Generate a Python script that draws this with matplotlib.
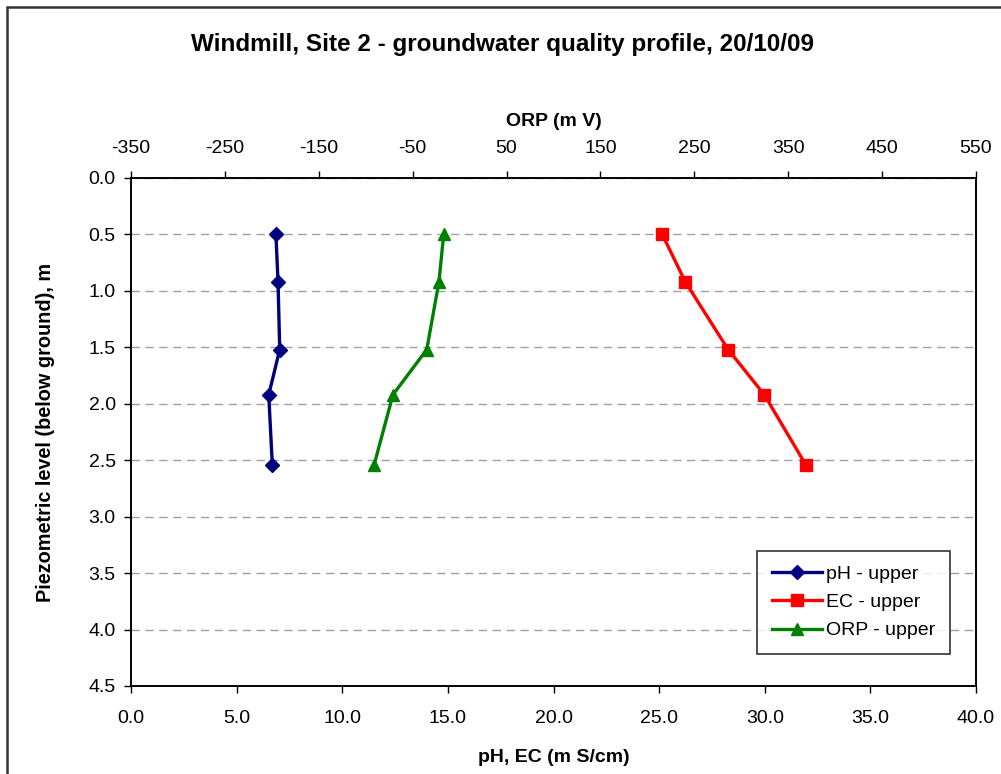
import matplotlib.pyplot as plt
from matplotlib.patches import Rectangle

plt.rcParams['font.family'] = ['Liberation Sans', 'DejaVu Sans']
plt.rcParams['axes.unicode_minus'] = False

depth = [0.50, 0.92, 1.52, 1.92, 2.54]
ph = [6.86, 6.96, 7.04, 6.52, 6.69]
ec = [25.15, 26.24, 28.27, 29.98, 31.94]
orp = [-17, -22, -35, -71, -91]

fig = plt.figure(figsize=(10.01, 7.74), dpi=100)
ax = fig.add_axes([131 / 1001, 1 - 686 / 774, 845 / 1001, 508 / 774])
ax2 = ax.twiny()

l1, = ax.plot(ph, depth, color='#000080', lw=2.4, marker='D', ms=7, label='pH - upper')
l2, = ax.plot(ec, depth, color='#ff0000', lw=2.4, marker='s', ms=8, label='EC - upper')
l3, = ax2.plot(orp, depth, color='#008000', lw=2.4, marker='^', ms=9, label='ORP - upper')

ax.set_xlim(0, 40)
ax.set_ylim(4.5, 0)
ax2.set_xlim(-350, 550)
ax.set_xticks([0, 5, 10, 15, 20, 25, 30, 35, 40])
ax.set_xticklabels(['%.1f' % v for v in ax.get_xticks()])
ax.set_yticks([i * 0.5 for i in range(10)])
ax.set_yticklabels(['%.1f' % (i * 0.5) for i in range(10)])
ax2.set_xticks(range(-350, 551, 100))

ax.yaxis.grid(True, linestyle=(0, (6, 4)), color='#a0a0a0', lw=1)
ax.set_axisbelow(True)

for a in (ax, ax2):
    a.tick_params(labelsize=14, length=5, width=1, color='black')
    for s in a.spines.values():
        s.set_linewidth(1.2)
ax.tick_params(axis='x', pad=12)
ax2.tick_params(axis='x', pad=10)
ax.tick_params(axis='y', pad=6)

ax.set_xlabel('pH, EC (m S/cm)', fontsize=14, fontweight='bold', labelpad=16)
ax.set_ylabel('Piezometric level (below ground), m', fontsize=14.3, fontweight='bold', labelpad=24)
ax2.set_xlabel('ORP (m V)', fontsize=14, fontweight='bold', labelpad=10)

fig.text(0.502, 1 - 45 / 774, 'Windmill, Site 2 - groundwater quality profile, 20/10/09',
         ha='center', va='center', fontsize=17.5, fontweight='bold')

leg = ax.legend(handles=[l1, l2, l3], loc='lower right', bbox_to_anchor=(0.969, 0.063),
                fontsize=14, frameon=True, fancybox=False, edgecolor='black',
                handlelength=2.6, handletextpad=0.2, borderpad=0.75, labelspacing=0.55,
                borderaxespad=0)
leg.get_frame().set_linewidth(1.2)

fig.patches.append(Rectangle((7 / 1001, -0.05), 1.1, 1 - 7 / 774 + 0.05, transform=fig.transFigure,
                             fill=False, edgecolor='#333333', lw=1.8))

fig.savefig('out.png', dpi=100)
